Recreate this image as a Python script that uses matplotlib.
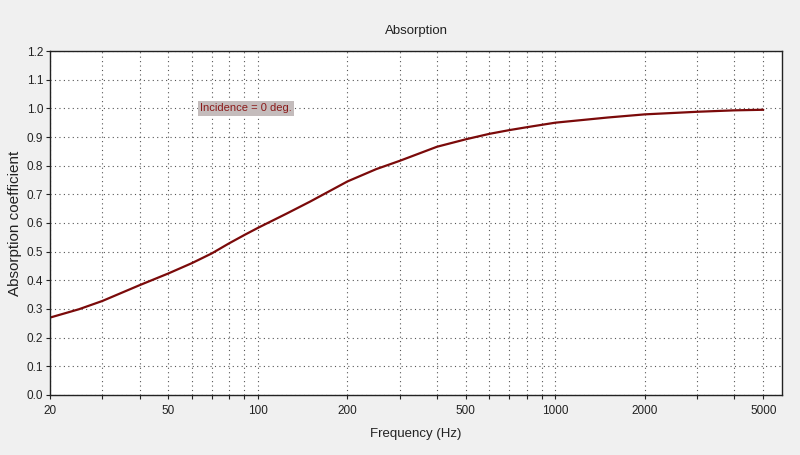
import matplotlib
matplotlib.use("Agg")
import matplotlib.pyplot as plt
from matplotlib.ticker import FixedLocator, NullFormatter, FixedFormatter

plt.rcParams['font.family'] = ['Liberation Sans', 'DejaVu Sans']

freq = [20, 25, 30, 40, 50, 60, 70, 80, 90, 100, 125, 150, 200, 250, 300,
        400, 500, 600, 700, 800, 1000, 1500, 2000, 3000, 4000, 5000]
absorption = [0.270, 0.299, 0.328, 0.383, 0.424, 0.460, 0.494, 0.529, 0.558,
              0.583, 0.633, 0.675, 0.745, 0.788, 0.817, 0.866, 0.892, 0.911,
              0.924, 0.934, 0.950, 0.968, 0.979, 0.988, 0.993, 0.995]

major_ticks = [20, 50, 100, 200, 500, 1000, 2000, 5000]
major_labels = ["20", "50", "100", "200", "500", "1000", "2000", "5000"]
minor_ticks = [30, 40, 60, 70, 80, 90, 300, 400, 600, 700, 800, 900,
               3000, 4000]
y_ticks = [i / 10 for i in range(13)]
y_labels = [f"{v:.1f}" for v in y_ticks]

fig = plt.figure(figsize=(8, 4.55), dpi=100, facecolor='#F0F0F0')
ax = fig.add_axes([0.0625, 0.1319, 0.915, 0.756])
ax.set_facecolor('white')

ax.plot(freq, absorption, color='#7B0A0A', linewidth=1.6,
        solid_capstyle='round', solid_joinstyle='round')

ax.set_xscale('log')
ax.set_xlim(20, 5780)
ax.set_ylim(0, 1.2)

ax.xaxis.set_major_locator(FixedLocator(major_ticks))
ax.xaxis.set_major_formatter(FixedFormatter(major_labels))
ax.xaxis.set_minor_locator(FixedLocator(minor_ticks))
ax.xaxis.set_minor_formatter(NullFormatter())
ax.set_yticks(y_ticks)
ax.set_yticklabels(y_labels)

ax.tick_params(axis='both', which='both', direction='out', length=3, width=0.8,
               colors='#222222', labelsize=8.5)
ax.tick_params(axis='x', which='both', pad=4)
ax.tick_params(axis='y', which='both', pad=2)

grid_kw = dict(color='#555555', linestyle=(0, (1, 3)), linewidth=0.8)
ax.grid(True, which='major', axis='both', **grid_kw)
ax.grid(True, which='minor', axis='x', **grid_kw)
ax.set_axisbelow(True)

for side in ['left', 'bottom', 'top', 'right']:
    ax.spines[side].set_color('#222222')
    ax.spines[side].set_linewidth(1.0)

ax.set_title("Absorption", fontsize=9.5, color='#222222', pad=12)
ax.set_xlabel("Frequency (Hz)", fontsize=9.5, color='#222222', labelpad=8)
ax.set_ylabel("Absorption coefficient", fontsize=11, color='#222222', labelpad=3)

ax.text(64, 1.0, "Incidence = 0 deg.", fontsize=8, color='#8B1A1A',
        ha='left', va='center',
        bbox=dict(boxstyle='square,pad=0.2', facecolor='#C4BCBC', edgecolor='none'))

fig.savefig("out.png", dpi=100, facecolor=fig.get_facecolor())
